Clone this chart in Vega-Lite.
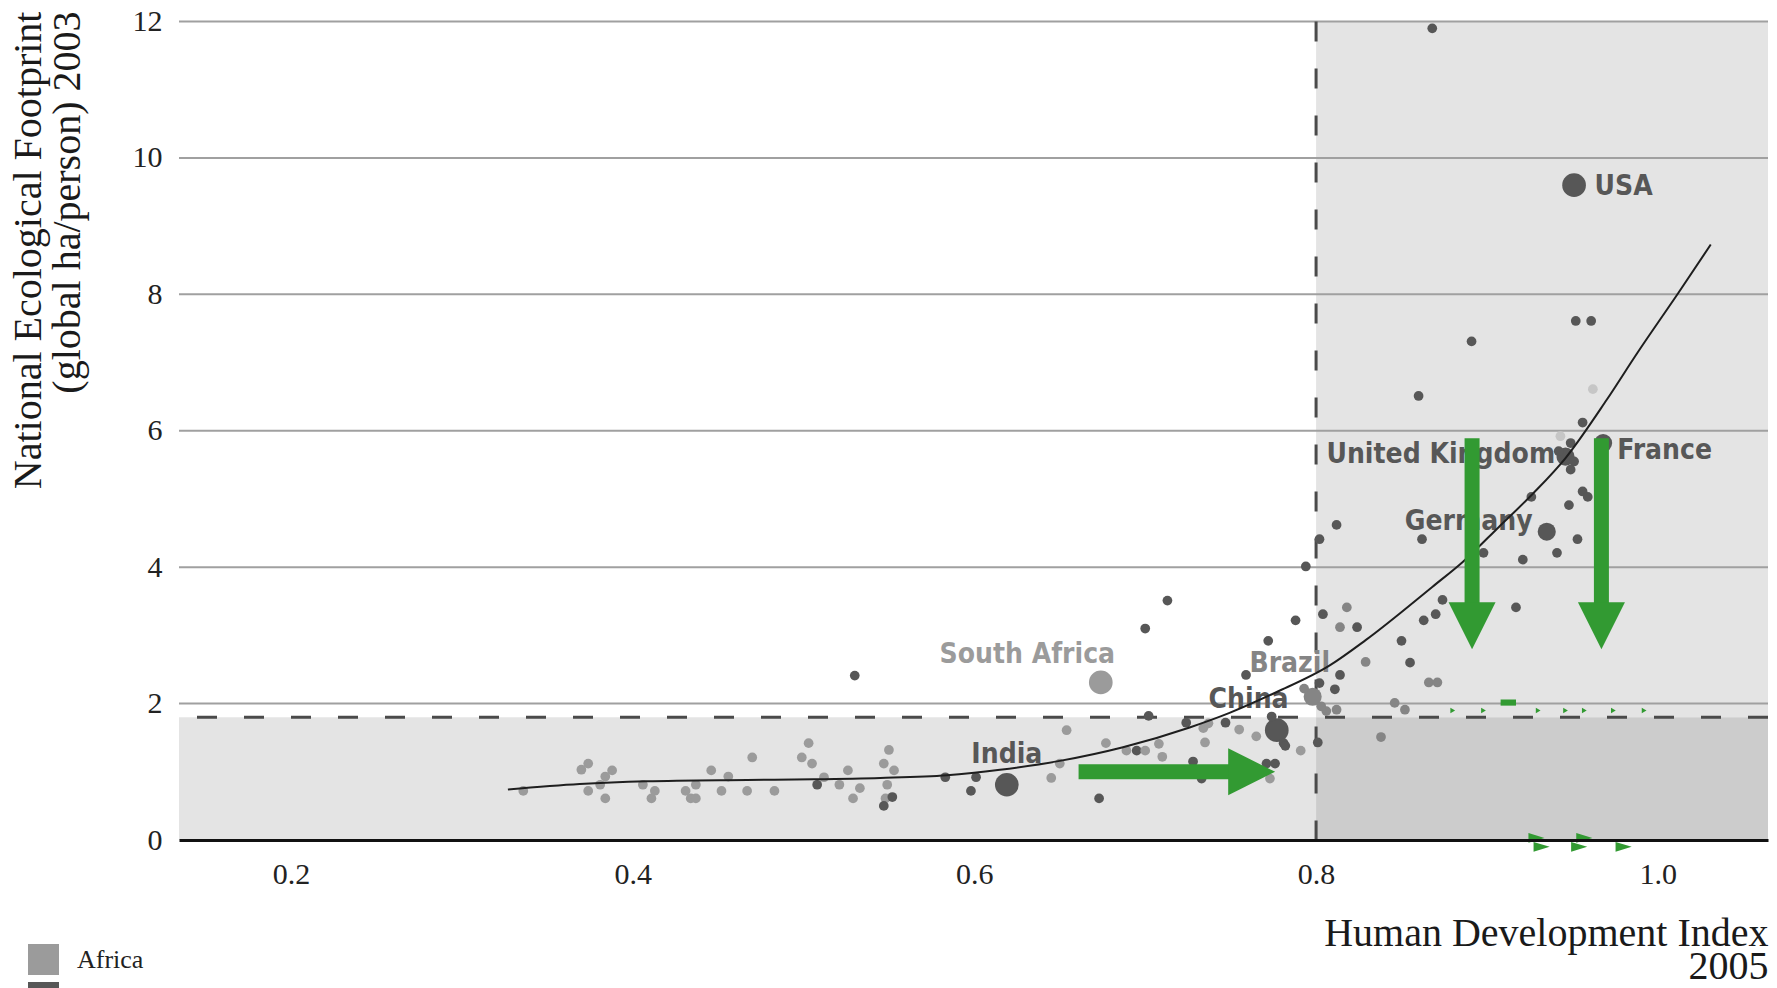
{
  "$schema": "https://vega.github.io/schema/vega-lite/v6.json",
  "width": 1589,
  "height": 818.5,
  "autosize": {"type": "none"},
  "padding": {"left": 179, "top": 21.5, "right": 9, "bottom": 148},
  "background": "white",
  "config": {"view": {"stroke": null}},
  "datasets": {
    "shadeLight": [
      {"hdi": 0.1345, "hdi_end": 0.8, "ef": 0, "ef_end": 1.8},
      {"hdi": 0.8, "hdi_end": 1.0645, "ef": 1.8, "ef_end": 12}
    ],
    "shadeDark": [
      {"hdi": 0.8, "hdi_end": 1.0645, "ef": 0, "ef_end": 1.8}
    ],
    "grid": [{"ef": 2}, {"ef": 4}, {"ef": 6}, {"ef": 8}, {"ef": 10}, {"ef": 12}],
    "points": [
      {"hdi": 0.336, "ef": 0.72, "region": "Africa", "marker": "s"},
      {"hdi": 0.370, "ef": 1.03, "region": "Africa", "marker": "s"},
      {"hdi": 0.374, "ef": 1.12, "region": "Africa", "marker": "s"},
      {"hdi": 0.374, "ef": 0.72, "region": "Africa", "marker": "s"},
      {"hdi": 0.381, "ef": 0.81, "region": "Africa", "marker": "s"},
      {"hdi": 0.384, "ef": 0.61, "region": "Africa", "marker": "s"},
      {"hdi": 0.384, "ef": 0.93, "region": "Africa", "marker": "s"},
      {"hdi": 0.388, "ef": 1.02, "region": "Africa", "marker": "s"},
      {"hdi": 0.406, "ef": 0.81, "region": "Africa", "marker": "s"},
      {"hdi": 0.411, "ef": 0.61, "region": "Africa", "marker": "s"},
      {"hdi": 0.413, "ef": 0.72, "region": "Africa", "marker": "s"},
      {"hdi": 0.431, "ef": 0.72, "region": "Africa", "marker": "s"},
      {"hdi": 0.434, "ef": 0.61, "region": "Africa", "marker": "s"},
      {"hdi": 0.437, "ef": 0.61, "region": "Africa", "marker": "s"},
      {"hdi": 0.437, "ef": 0.81, "region": "Africa", "marker": "s"},
      {"hdi": 0.446, "ef": 1.02, "region": "Africa", "marker": "s"},
      {"hdi": 0.452, "ef": 0.72, "region": "Africa", "marker": "s"},
      {"hdi": 0.456, "ef": 0.93, "region": "Africa", "marker": "s"},
      {"hdi": 0.467, "ef": 0.72, "region": "Africa", "marker": "s"},
      {"hdi": 0.470, "ef": 1.21, "region": "Africa", "marker": "s"},
      {"hdi": 0.483, "ef": 0.72, "region": "Africa", "marker": "s"},
      {"hdi": 0.499, "ef": 1.21, "region": "Africa", "marker": "s"},
      {"hdi": 0.503, "ef": 1.42, "region": "Africa", "marker": "s"},
      {"hdi": 0.505, "ef": 1.12, "region": "Africa", "marker": "s"},
      {"hdi": 0.508, "ef": 0.81, "region": "Other regions", "marker": "s"},
      {"hdi": 0.512, "ef": 0.92, "region": "Africa", "marker": "s"},
      {"hdi": 0.521, "ef": 0.81, "region": "Africa", "marker": "s"},
      {"hdi": 0.526, "ef": 1.02, "region": "Africa", "marker": "s"},
      {"hdi": 0.529, "ef": 0.61, "region": "Africa", "marker": "s"},
      {"hdi": 0.533, "ef": 0.76, "region": "Africa", "marker": "s"},
      {"hdi": 0.550, "ef": 1.32, "region": "Africa", "marker": "s"},
      {"hdi": 0.547, "ef": 1.12, "region": "Africa", "marker": "s"},
      {"hdi": 0.553, "ef": 1.02, "region": "Africa", "marker": "s"},
      {"hdi": 0.549, "ef": 0.81, "region": "Africa", "marker": "s"},
      {"hdi": 0.548, "ef": 0.61, "region": "Africa", "marker": "s"},
      {"hdi": 0.552, "ef": 0.63, "region": "Other regions", "marker": "s"},
      {"hdi": 0.547, "ef": 0.50, "region": "Other regions", "marker": "s"},
      {"hdi": 0.583, "ef": 0.92, "region": "Other regions", "marker": "s"},
      {"hdi": 0.601, "ef": 0.92, "region": "Other regions", "marker": "s"},
      {"hdi": 0.598, "ef": 0.72, "region": "Other regions", "marker": "s"},
      {"hdi": 0.530, "ef": 2.41, "region": "Other regions", "marker": "s"},
      {"hdi": 0.619, "ef": 0.81, "region": "Other regions", "marker": "l"},
      {"hdi": 0.674, "ef": 2.31, "region": "Africa", "marker": "l"},
      {"hdi": 0.645, "ef": 0.91, "region": "Africa", "marker": "s"},
      {"hdi": 0.650, "ef": 1.12, "region": "Africa", "marker": "s"},
      {"hdi": 0.654, "ef": 1.61, "region": "Africa", "marker": "s"},
      {"hdi": 0.673, "ef": 0.61, "region": "Other regions", "marker": "s"},
      {"hdi": 0.677, "ef": 1.42, "region": "Africa", "marker": "s"},
      {"hdi": 0.689, "ef": 1.31, "region": "Africa", "marker": "s"},
      {"hdi": 0.695, "ef": 1.31, "region": "Other regions", "marker": "s"},
      {"hdi": 0.700, "ef": 1.31, "region": "Africa", "marker": "s"},
      {"hdi": 0.702, "ef": 1.82, "region": "Other regions", "marker": "s"},
      {"hdi": 0.700, "ef": 3.10, "region": "Other regions", "marker": "s"},
      {"hdi": 0.713, "ef": 3.51, "region": "Other regions", "marker": "s"},
      {"hdi": 0.708, "ef": 1.41, "region": "Africa", "marker": "s"},
      {"hdi": 0.710, "ef": 1.22, "region": "Africa", "marker": "s"},
      {"hdi": 0.724, "ef": 1.72, "region": "Other regions", "marker": "s"},
      {"hdi": 0.728, "ef": 1.15, "region": "Other regions", "marker": "s"},
      {"hdi": 0.733, "ef": 0.90, "region": "Other regions", "marker": "s"},
      {"hdi": 0.734, "ef": 1.64, "region": "Africa", "marker": "s"},
      {"hdi": 0.735, "ef": 1.43, "region": "Africa", "marker": "s"},
      {"hdi": 0.737, "ef": 1.71, "region": "Africa", "marker": "s"},
      {"hdi": 0.747, "ef": 1.72, "region": "Other regions", "marker": "s"},
      {"hdi": 0.755, "ef": 1.62, "region": "Africa", "marker": "s"},
      {"hdi": 0.759, "ef": 2.42, "region": "Other regions", "marker": "s"},
      {"hdi": 0.765, "ef": 1.52, "region": "Africa", "marker": "s"},
      {"hdi": 0.772, "ef": 2.92, "region": "Other regions", "marker": "s"},
      {"hdi": 0.771, "ef": 1.12, "region": "Other regions", "marker": "s"},
      {"hdi": 0.776, "ef": 1.12, "region": "Other regions", "marker": "s"},
      {"hdi": 0.773, "ef": 0.90, "region": "Africa", "marker": "s"},
      {"hdi": 0.777, "ef": 1.61, "region": "Other regions", "marker": "l"},
      {"hdi": 0.774, "ef": 1.81, "region": "Other regions", "marker": "s"},
      {"hdi": 0.781, "ef": 1.42, "region": "Other regions", "marker": "s"},
      {"hdi": 0.782, "ef": 1.38, "region": "Other regions", "marker": "s"},
      {"hdi": 0.788, "ef": 3.22, "region": "Other regions", "marker": "s"},
      {"hdi": 0.794, "ef": 4.01, "region": "Other regions", "marker": "s"},
      {"hdi": 0.791, "ef": 1.31, "region": "Africa", "marker": "s"},
      {"hdi": 0.801, "ef": 1.43, "region": "Other regions", "marker": "s"},
      {"hdi": 0.804, "ef": 3.31, "region": "Other regions", "marker": "s"},
      {"hdi": 0.798, "ef": 2.10, "region": "Latin America", "marker": "m"},
      {"hdi": 0.802, "ef": 2.30, "region": "Other regions", "marker": "s"},
      {"hdi": 0.793, "ef": 2.22, "region": "Latin America", "marker": "s"},
      {"hdi": 0.860, "ef": 6.51, "region": "Other regions", "marker": "s"},
      {"hdi": 0.962, "ef": 6.61, "region": "Middle East", "marker": "s"},
      {"hdi": 0.956, "ef": 6.12, "region": "Other regions", "marker": "s"},
      {"hdi": 0.943, "ef": 5.92, "region": "Middle East", "marker": "s"},
      {"hdi": 0.949, "ef": 5.82, "region": "Other regions", "marker": "s"},
      {"hdi": 0.946, "ef": 5.62, "region": "Other regions", "marker": "m"},
      {"hdi": 0.942, "ef": 5.70, "region": "Other regions", "marker": "s"},
      {"hdi": 0.951, "ef": 5.55, "region": "Other regions", "marker": "s"},
      {"hdi": 0.949, "ef": 5.43, "region": "Other regions", "marker": "s"},
      {"hdi": 0.968, "ef": 5.82, "region": "Other regions", "marker": "m"},
      {"hdi": 0.956, "ef": 5.11, "region": "Other regions", "marker": "s"},
      {"hdi": 0.959, "ef": 5.03, "region": "Other regions", "marker": "s"},
      {"hdi": 0.948, "ef": 4.91, "region": "Other regions", "marker": "s"},
      {"hdi": 0.926, "ef": 5.03, "region": "Other regions", "marker": "s"},
      {"hdi": 0.935, "ef": 4.52, "region": "Other regions", "marker": "m"},
      {"hdi": 0.953, "ef": 4.41, "region": "Other regions", "marker": "s"},
      {"hdi": 0.941, "ef": 4.21, "region": "Other regions", "marker": "s"},
      {"hdi": 0.921, "ef": 4.11, "region": "Other regions", "marker": "s"},
      {"hdi": 0.898, "ef": 4.21, "region": "Other regions", "marker": "s"},
      {"hdi": 0.862, "ef": 4.41, "region": "Other regions", "marker": "s"},
      {"hdi": 0.812, "ef": 4.62, "region": "Other regions", "marker": "s"},
      {"hdi": 0.802, "ef": 4.41, "region": "Other regions", "marker": "s"},
      {"hdi": 0.917, "ef": 3.41, "region": "Other regions", "marker": "s"},
      {"hdi": 0.874, "ef": 3.52, "region": "Other regions", "marker": "s"},
      {"hdi": 0.870, "ef": 3.31, "region": "Other regions", "marker": "s"},
      {"hdi": 0.863, "ef": 3.22, "region": "Other regions", "marker": "s"},
      {"hdi": 0.850, "ef": 2.92, "region": "Other regions", "marker": "s"},
      {"hdi": 0.855, "ef": 2.60, "region": "Other regions", "marker": "s"},
      {"hdi": 0.829, "ef": 2.61, "region": "Latin America", "marker": "s"},
      {"hdi": 0.866, "ef": 2.31, "region": "Latin America", "marker": "s"},
      {"hdi": 0.871, "ef": 2.31, "region": "Latin America", "marker": "s"},
      {"hdi": 0.818, "ef": 3.41, "region": "Latin America", "marker": "s"},
      {"hdi": 0.814, "ef": 3.12, "region": "Latin America", "marker": "s"},
      {"hdi": 0.824, "ef": 3.12, "region": "Other regions", "marker": "s"},
      {"hdi": 0.814, "ef": 2.42, "region": "Other regions", "marker": "s"},
      {"hdi": 0.811, "ef": 2.21, "region": "Other regions", "marker": "s"},
      {"hdi": 0.846, "ef": 2.01, "region": "Latin America", "marker": "s"},
      {"hdi": 0.852, "ef": 1.91, "region": "Latin America", "marker": "s"},
      {"hdi": 0.838, "ef": 1.51, "region": "Latin America", "marker": "s"},
      {"hdi": 0.812, "ef": 1.91, "region": "Latin America", "marker": "s"},
      {"hdi": 0.806, "ef": 1.89, "region": "Latin America", "marker": "s"},
      {"hdi": 0.803, "ef": 1.96, "region": "Latin America", "marker": "s"},
      {"hdi": 0.868, "ef": 11.90, "region": "Other regions", "marker": "s"},
      {"hdi": 0.951, "ef": 9.60, "region": "Other regions", "marker": "l"},
      {"hdi": 0.952, "ef": 7.61, "region": "Other regions", "marker": "s"},
      {"hdi": 0.961, "ef": 7.61, "region": "Other regions", "marker": "s"},
      {"hdi": 0.891, "ef": 7.31, "region": "Other regions", "marker": "s"}
    ],
    "labels": [
      {"hdi": 0.631, "ef": 2.59, "name": "South Africa", "region": "Africa"},
      {"hdi": 0.619, "ef": 1.13, "name": "India", "region": "Other regions"},
      {"hdi": 0.7605, "ef": 1.93, "name": "China", "region": "Other regions"},
      {"hdi": 0.7846, "ef": 2.47, "name": "Brazil", "region": "Latin America"},
      {"hdi": 0.873, "ef": 5.52, "name": "United Kingdom", "region": "Other regions"},
      {"hdi": 0.8893, "ef": 4.545, "name": "Germany", "region": "Other regions"},
      {"hdi": 1.004, "ef": 5.58, "name": "France", "region": "Other regions"},
      {"hdi": 0.980, "ef": 9.46, "name": "USA", "region": "Other regions"}
    ],
    "curve": [
      {"hdi": 0.327, "ef": 0.74}, {"hdi": 0.369, "ef": 0.82}, {"hdi": 0.408, "ef": 0.86},
      {"hdi": 0.467, "ef": 0.88}, {"hdi": 0.506, "ef": 0.89}, {"hdi": 0.545, "ef": 0.91},
      {"hdi": 0.584, "ef": 0.95}, {"hdi": 0.615, "ef": 1.03}, {"hdi": 0.650, "ef": 1.16},
      {"hdi": 0.687, "ef": 1.36}, {"hdi": 0.726, "ef": 1.65}, {"hdi": 0.749, "ef": 1.86},
      {"hdi": 0.777, "ef": 2.17}, {"hdi": 0.808, "ef": 2.56}, {"hdi": 0.829, "ef": 2.93},
      {"hdi": 0.868, "ef": 3.71}, {"hdi": 0.886, "ef": 4.08}, {"hdi": 0.907, "ef": 4.59},
      {"hdi": 0.927, "ef": 5.08}, {"hdi": 0.946, "ef": 5.60}, {"hdi": 0.970, "ef": 6.45},
      {"hdi": 0.988, "ef": 7.14}, {"hdi": 1.012, "ef": 8.02}, {"hdi": 1.031, "ef": 8.73}
    ],
    "shafts": [
      {"hdi": 0.661, "hdi_end": 0.752, "ef": 1.0, "ef_end": 1.0},
      {"hdi": 0.8913, "hdi_end": 0.8913, "ef": 5.89, "ef_end": 3.44},
      {"hdi": 0.967, "hdi_end": 0.967, "ef": 5.89, "ef_end": 3.44}
    ],
    "heads": [
      {"hdi": 0.7623, "ef": 1.0, "dir": "right"},
      {"hdi": 0.8913, "ef": 3.14, "dir": "down"},
      {"hdi": 0.967, "ef": 3.14, "dir": "down"}
    ],
    "ticksGreen": [
      {"hdi": 0.880, "ef": 1.9}, {"hdi": 0.898, "ef": 1.9}, {"hdi": 0.930, "ef": 1.9},
      {"hdi": 0.946, "ef": 1.9}, {"hdi": 0.957, "ef": 1.9}, {"hdi": 0.974, "ef": 1.9},
      {"hdi": 0.992, "ef": 1.9}
    ],
    "axisGreen": [
      {"hdi": 0.929, "ef": 0.03}, {"hdi": 0.932, "ef": -0.1}, {"hdi": 0.957, "ef": 0.03},
      {"hdi": 0.954, "ef": -0.1}, {"hdi": 0.980, "ef": -0.1}
    ],
    "greenBar": [
      {"hdi": 0.908, "hdi_end": 0.917, "ef": 1.97, "ef_end": 2.06}
    ]
  },
  "layer": [
    {
      "data": {"name": "shadeLight"},
      "mark": {"type": "rect", "color": "#e4e4e4"},
      "encoding": {
        "x": {
          "field": "hdi", "type": "quantitative",
          "scale": {"domain": [0.1345, 1.0645], "nice": false, "zero": false},
          "axis": {
            "values": [0.2, 0.4, 0.6, 0.8, 1.0],
            "format": ".1f",
            "ticks": false,
            "grid": false,
            "domain": true,
            "domainColor": "#111111",
            "domainWidth": 3,
            "labelFont": "Liberation Serif",
            "labelFontSize": 30,
            "labelColor": "#222222",
            "labelPadding": 19,
            "title": ["Human Development Index", "2005"],
            "titleFont": "Liberation Serif",
            "titleFontSize": 40,
            "titleFontWeight": "normal",
            "titleColor": "#1a1a1a",
            "titleAlign": "right",
            "titleBaseline": "top",
            "titleX": 1589,
            "titleY": 73,
            "titleLineHeight": 33,
            "zindex": 1
          }
        },
        "x2": {"field": "hdi_end"},
        "y": {
          "field": "ef", "type": "quantitative",
          "scale": {"domain": [0, 12], "nice": false},
          "axis": {
            "values": [0, 2, 4, 6, 8, 10, 12],
            "format": "d",
            "ticks": false,
            "grid": false,
            "domain": false,
            "labelFont": "Liberation Serif",
            "labelFontSize": 30,
            "labelColor": "#222222",
            "labelPadding": 17,
            "title": ["National Ecological Footprint", "(global ha/person) 2003"],
            "titleFont": "Liberation Serif",
            "titleFontSize": 40,
            "titleFontWeight": "normal",
            "titleColor": "#1a1a1a",
            "titleAngle": -90,
            "titleAlign": "right",
            "titleBaseline": "top",
            "titleX": -170.6,
            "titleY": -10.5,
            "titleLineHeight": 39
          }
        },
        "y2": {"field": "ef_end"}
      }
    },
    {
      "data": {"name": "shadeDark"},
      "mark": {"type": "rect", "color": "#cccccc"},
      "encoding": {
        "x": {"field": "hdi", "type": "quantitative"},
        "x2": {"field": "hdi_end"},
        "y": {"field": "ef", "type": "quantitative"},
        "y2": {"field": "ef_end"}
      }
    },
    {
      "data": {"name": "grid"},
      "mark": {"type": "rule", "color": "#a0a0a0", "strokeWidth": 2},
      "encoding": {"y": {"field": "ef", "type": "quantitative"}}
    },
    {
      "data": {"values": [{"ef": 1.8}]},
      "mark": {"type": "rule", "color": "#4a4a4a", "strokeWidth": 3, "strokeDash": [20, 27]},
      "encoding": {"y": {"field": "ef", "type": "quantitative"}}
    },
    {
      "data": {"values": [{"hdi": 0.8}]},
      "mark": {"type": "rule", "color": "#4a4a4a", "strokeWidth": 3, "strokeDash": [20, 27]},
      "encoding": {"x": {"field": "hdi", "type": "quantitative"}}
    },
    {
      "data": {"name": "points"},
      "mark": {"type": "point", "shape": "circle", "filled": true, "opacity": 1, "strokeWidth": 0},
      "encoding": {
        "x": {"field": "hdi", "type": "quantitative"},
        "y": {"field": "ef", "type": "quantitative"},
        "size": {
          "field": "marker", "type": "nominal",
          "scale": {"domain": ["s", "m", "l"], "range": [95, 560, 700]},
          "legend": null
        },
        "color": {
          "field": "region", "type": "nominal",
          "scale": {
            "domain": ["Africa", "Other regions", "Latin America", "Middle East"],
            "range": ["#9b9b9b", "#575757", "#858585", "#c6c6c6"]
          },
          "legend": {
            "values": ["Africa", "Other regions"],
            "orient": "none",
            "legendX": -151,
            "legendY": 922.5,
            "title": null,
            "padding": 0,
            "symbolType": "square",
            "symbolSize": 961,
            "symbolStrokeWidth": 0,
            "symbolOpacity": 1,
            "labelFont": "Liberation Serif",
            "labelFontSize": 26,
            "labelColor": "#222222",
            "labelOffset": 18,
            "rowPadding": 7,
            "encode": {"symbols": {"update": {"shape": {"value": "square"}, "size": {"value": 961}}}}
          }
        }
      }
    },
    {
      "data": {"name": "labels"},
      "mark": {
        "type": "text",
        "font": "Liberation Sans Narrow, DejaVu Sans Condensed, Roboto Condensed, sans-serif",
        "fontWeight": "bold",
        "fontSize": 28,
        "align": "center",
        "baseline": "alphabetic"
      },
      "encoding": {
        "x": {"field": "hdi", "type": "quantitative"},
        "y": {"field": "ef", "type": "quantitative"},
        "text": {"field": "name"},
        "color": {"field": "region", "type": "nominal"}
      }
    },
    {
      "data": {"name": "curve"},
      "mark": {"type": "line", "color": "#1e1e1e", "strokeWidth": 2, "interpolate": "monotone"},
      "encoding": {
        "x": {"field": "hdi", "type": "quantitative"},
        "y": {"field": "ef", "type": "quantitative"}
      }
    },
    {
      "data": {"name": "shafts"},
      "mark": {"type": "rule", "color": "#329a32", "strokeWidth": 15, "strokeCap": "butt"},
      "encoding": {
        "x": {"field": "hdi", "type": "quantitative"},
        "x2": {"field": "hdi_end"},
        "y": {"field": "ef", "type": "quantitative"},
        "y2": {"field": "ef_end"}
      }
    },
    {
      "data": {"name": "heads"},
      "mark": {"type": "point", "filled": true, "opacity": 1, "color": "#329a32", "size": 2209, "strokeWidth": 0},
      "encoding": {
        "x": {"field": "hdi", "type": "quantitative"},
        "y": {"field": "ef", "type": "quantitative"},
        "shape": {
          "field": "dir", "type": "nominal",
          "scale": {"domain": ["right", "down"], "range": ["M-1,-1L1,0L-1,1Z", "M-1,-1L1,-1L0,1Z"]},
          "legend": null
        }
      }
    },
    {
      "data": {"name": "ticksGreen"},
      "mark": {"type": "point", "filled": true, "opacity": 1, "color": "#329a32", "size": 30, "shape": "triangle-right", "strokeWidth": 0},
      "encoding": {
        "x": {"field": "hdi", "type": "quantitative"},
        "y": {"field": "ef", "type": "quantitative"}
      }
    },
    {
      "data": {"name": "axisGreen"},
      "mark": {"type": "point", "filled": true, "opacity": 1, "color": "#329a32", "size": 260, "shape": "M-1,-0.6L1,0L-1,0.6Z", "strokeWidth": 0},
      "encoding": {
        "x": {"field": "hdi", "type": "quantitative"},
        "y": {"field": "ef", "type": "quantitative"}
      }
    },
    {
      "data": {"name": "greenBar"},
      "mark": {"type": "rect", "color": "#329a32"},
      "encoding": {
        "x": {"field": "hdi", "type": "quantitative"},
        "x2": {"field": "hdi_end"},
        "y": {"field": "ef", "type": "quantitative"},
        "y2": {"field": "ef_end"}
      }
    }
  ]
}
